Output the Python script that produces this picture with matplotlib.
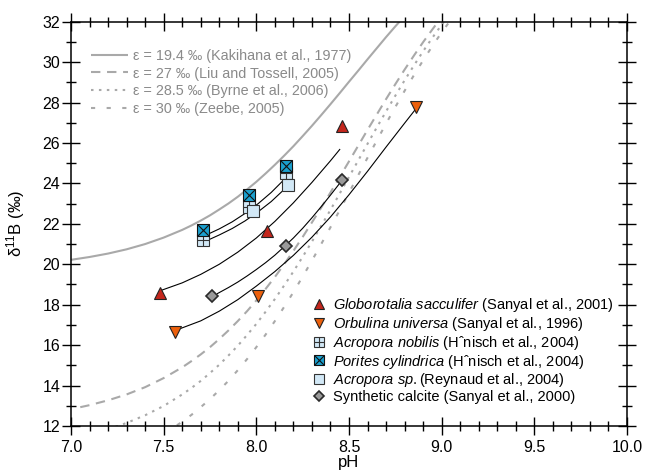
import matplotlib
matplotlib.use("Agg")
import matplotlib.pyplot as plt

plt.rcParams['font.family'] = ['Liberation Sans', 'DejaVu Sans']
plt.rcParams['mathtext.fontset'] = 'custom'
plt.rcParams['mathtext.rm'] = 'Liberation Sans'
plt.rcParams['mathtext.it'] = 'Liberation Sans:italic'

# ---------------- theoretical borate curves -------------
ph_e194 = [7.0, 7.1, 7.2, 7.3, 7.4, 7.5, 7.6, 7.65, 7.7, 7.75, 7.8, 7.85, 7.9, 7.95, 8.0,
           8.05, 8.1, 8.15, 8.2, 8.25, 8.3, 8.35, 8.4, 8.45, 8.5, 8.55, 8.6, 8.65, 8.7, 8.75, 8.8]
d_e194 = [20.22, 20.36, 20.53, 20.74, 21.00, 21.32, 21.70, 21.92, 22.16, 22.42, 22.71, 23.01,
          23.34, 23.70, 24.08, 24.49, 24.92, 25.37, 25.84, 26.34, 26.85, 27.38, 27.92, 28.47,
          29.03, 29.58, 30.14, 30.69, 31.24, 31.77, 32.28]

ph_e27 = [7.05, 7.1, 7.2, 7.3, 7.4, 7.5, 7.6, 7.65, 7.7, 7.75, 7.8, 7.85, 7.9, 7.95, 8.0,
          8.05, 8.1, 8.15, 8.2, 8.25, 8.3, 8.35, 8.4, 8.45, 8.5, 8.55, 8.6, 8.65, 8.7, 8.75,
          8.8, 8.85, 8.9, 8.95, 9.0]
d_e27 = [12.93, 13.03, 13.27, 13.56, 13.92, 14.37, 14.90, 15.21, 15.54, 15.90, 16.30, 16.73,
         17.19, 17.68, 18.21, 18.78, 19.37, 20.00, 20.66, 21.35, 22.07, 22.80, 23.55, 24.32,
         25.09, 25.87, 26.65, 27.41, 28.17, 28.91, 29.63, 30.32, 30.99, 31.62, 32.23]

ph_e285 = [7.2, 7.3, 7.4, 7.5, 7.6, 7.65, 7.7, 7.75, 7.8, 7.85, 7.9, 7.95, 8.0, 8.05, 8.1,
           8.15, 8.2, 8.25, 8.3, 8.35, 8.4, 8.45, 8.5, 8.55, 8.6, 8.65, 8.7, 8.75, 8.8, 8.85,
           8.9, 8.95, 9.0, 9.05]
d_e285 = [11.83, 12.15, 12.53, 12.99, 13.56, 13.88, 14.23, 14.62, 15.03, 15.49, 15.97, 16.50,
          17.05, 17.65, 18.28, 18.95, 19.64, 20.37, 21.12, 21.90, 22.69, 23.50, 24.32, 25.14,
          25.96, 26.77, 27.56, 28.34, 29.10, 29.83, 30.54, 31.21, 31.85, 32.45]

ph_e30 = [7.5, 7.55, 7.6, 7.65, 7.7, 7.75, 7.8, 7.85, 7.9, 7.95, 8.0, 8.05, 8.1, 8.15, 8.2,
          8.25, 8.3, 8.35, 8.4, 8.45, 8.5, 8.55, 8.6, 8.65, 8.7, 8.75, 8.8, 8.85, 8.9, 8.95,
          9.0, 9.05]
d_e30 = [11.62, 11.90, 12.21, 12.55, 12.93, 13.33, 13.77, 14.24, 14.76, 15.31, 15.90, 16.52,
         17.19, 17.89, 18.62, 19.39, 20.18, 21.00, 21.83, 22.68, 23.54, 24.41, 25.27, 26.12,
         26.96, 27.78, 28.58, 29.35, 30.09, 30.80, 31.47, 32.10]

theory_labels = ["ε = 19.4 ‰ (Kakihana et al., 1977)",
                 "ε = 27 ‰ (Liu and Tossell, 2005)",
                 "ε = 28.5 ‰ (Byrne et al., 2006)",
                 "ε = 30 ‰ (Zeebe, 2005)"]

# ---------------- fitted black curves ---------------------------------------
ph_fit_gs = [7.49, 7.6, 7.7, 7.8, 7.9, 8.0, 8.1, 8.2, 8.3, 8.4, 8.45]
d_fit_gs = [18.72, 19.08, 19.5, 20.0, 20.6, 21.3, 22.12, 23.04, 24.05, 25.12, 25.68]

ph_fit_ou = [7.57, 7.7, 7.8, 7.9, 8.0, 8.1, 8.2, 8.3, 8.4, 8.5, 8.6, 8.7, 8.8, 8.86]
d_fit_ou = [16.75, 17.2, 17.68, 18.25, 18.92, 19.64, 20.44, 21.34, 22.34, 23.44, 24.6, 25.8,
            26.98, 27.68]

ph_fit_sc = [7.79, 7.85, 7.9, 7.95, 8.0, 8.05, 8.1, 8.155, 8.2, 8.25, 8.3, 8.35, 8.4, 8.445]
d_fit_sc = [18.55, 18.85, 19.12, 19.42, 19.74, 20.08, 20.45, 20.91, 21.3, 21.78, 22.3, 22.85,
            23.42, 23.95]

ph_fit_c1 = [7.73, 7.8, 7.87, 7.94, 8.01, 8.08, 8.14]
d_fit_c1 = [21.45, 21.75, 22.1, 22.52, 23.0, 23.55, 24.1]

ph_fit_c2 = [7.74, 7.8, 7.87, 7.94, 8.01, 8.08, 8.15]
d_fit_c2 = [21.2, 21.45, 21.77, 22.15, 22.6, 23.1, 23.7]

# ---------------- data points ------------------------------------------------
ph_gs = [7.48, 8.06, 8.46]
d_gs = [18.58, 21.65, 26.84]
ph_ou = [7.56, 8.01, 8.86]
d_ou = [16.65, 18.45, 27.76]
ph_an = [7.71, 7.96, 8.16]
d_an = [21.19, 22.84, 24.5]
ph_pc = [7.71, 7.96, 8.16]
d_pc = [21.72, 23.42, 24.86]
ph_as = [7.98, 8.17]
d_as = [22.64, 23.92]
ph_sc = [7.76, 8.16, 8.46]
d_sc = [18.44, 20.91, 24.16]

data_labels = [r"$\it{Globorotalia\ sacculifer}$ (Sanyal et al., 2001)",
               r"$\it{Orbulina\ universa}$ (Sanyal et al., 1996)",
               r"$\it{Acropora\ nobilis}$ (Hˆnisch et al., 2004)",
               r"$\it{Porites\ cylindrica}$ (Hˆnisch et al., 2004)",
               r"$\it{Acropora\ sp.}$(Reynaud et al., 2004)",
               "Synthetic calcite (Sanyal et al., 2000)"]

xticks = [7.0, 7.5, 8.0, 8.5, 9.0, 9.5, 10.0]
yticks = [12, 14, 16, 18, 20, 22, 24, 26, 28, 30, 32]

# ---------------- figure ---------------------------------------------------
fig = plt.figure(figsize=(6.46, 4.75), dpi=100)
ax = fig.add_axes([0.1099, 0.1032, 0.8607, 0.8511])

gray = '#a9a9a9'
lw_t = 1.5
l1, = ax.plot(ph_e194, d_e194, color=gray, lw=lw_t, solid_capstyle='butt', zorder=2)
l2, = ax.plot(ph_e27, d_e27, color=gray, lw=lw_t, dashes=(4.5, 3.2), zorder=2)
l3, = ax.plot(ph_e285, d_e285, color=gray, lw=lw_t, dashes=(1.2, 2.6), zorder=2)
l4, = ax.plot(ph_e30, d_e30, color=gray, lw=lw_t, dashes=(2.0, 5.5), zorder=2)

for xs, ys in [(ph_fit_gs, d_fit_gs), (ph_fit_ou, d_fit_ou), (ph_fit_sc, d_fit_sc),
               (ph_fit_c1, d_fit_c1), (ph_fit_c2, d_fit_c2)]:
    ax.plot(xs, ys, color='black', lw=0.8, zorder=3)

ec = '#222222'
ms_sq = 8.4
h_gs, = ax.plot(ph_gs, d_gs, ls='none', marker='^', ms=8.5, mfc='#c4261c', mec=ec, mew=0.8, zorder=5)
h_ou, = ax.plot(ph_ou, d_ou, ls='none', marker='v', ms=8.5, mfc='#ec600c', mec=ec, mew=0.8, zorder=5)
h_an1, = ax.plot(ph_an, d_an, ls='none', marker='s', ms=ms_sq, mfc='#d2e8f6', mec='#333333', mew=0.8, zorder=5)
h_an2, = ax.plot(ph_an, d_an, ls='none', marker='+', ms=ms_sq, mec='#333333', mew=0.8, zorder=5)
h_pc1, = ax.plot(ph_pc, d_pc, ls='none', marker='s', ms=ms_sq, mfc='#1aa0cf', mec='#111111', mew=0.8, zorder=6)
h_pc2, = ax.plot(ph_pc, d_pc, ls='none', marker='x', ms=ms_sq, mec='#111111', mew=0.8, zorder=6)
h_as, = ax.plot(ph_as, d_as, ls='none', marker='s', ms=ms_sq, mfc='#d2e8f6', mec='#333333', mew=0.8, zorder=7)
h_sc, = ax.plot(ph_sc, d_sc, ls='none', marker='D', ms=6.2, mfc='#9a9a9a', mec='#2a2a2a', mew=1.2, zorder=5)

ax.set_xlim(7.0, 10.0)
ax.set_ylim(12, 32)
ax.set_xticks(xticks)
ax.set_xticklabels([f"{t:.1f}" for t in xticks])
ax.set_yticks(yticks)
ax.set_xticks([7.0 + 0.1 * i for i in range(31)], minor=True)
ax.set_yticks(list(range(12, 33)), minor=True)
ax.tick_params(which='major', direction='inout', length=12.5, width=1.0, labelsize=11.5,
               top=True, right=True, pad=1.5)
ax.tick_params(axis='x', which='major', pad=4)
ax.tick_params(which='minor', direction='inout', length=7.5, width=1.0, top=True, right=True)
for s in ax.spines.values():
    s.set_linewidth(1.1)

ax.set_xlabel("pH", fontsize=12, labelpad=0)
ax.set_ylabel(r"δ$^{11}$B (‰)", fontsize=12)
ax.yaxis.set_label_coords(-0.079, 0.5)

leg1 = ax.legend([l1, l2, l3, l4], theory_labels, loc='upper left', frameon=False,
                 fontsize=10.4, labelcolor='#8a8a8a', handlelength=2.56, handletextpad=0.35,
                 labelspacing=0.25, bbox_to_anchor=(0.0255, 0.947), borderaxespad=0.0)
ax.add_artist(leg1)
ax.legend([h_gs, h_ou, (h_an1, h_an2), (h_pc1, h_pc2), h_as, h_sc], data_labels,
          loc='lower right', frameon=False, fontsize=10.5, markerscale=0.85,
          handlelength=1.0, handletextpad=0.45, labelspacing=0.05,
          bbox_to_anchor=(0.987, 0.04), borderaxespad=0.0)

fig.savefig("out.png", dpi=100)
